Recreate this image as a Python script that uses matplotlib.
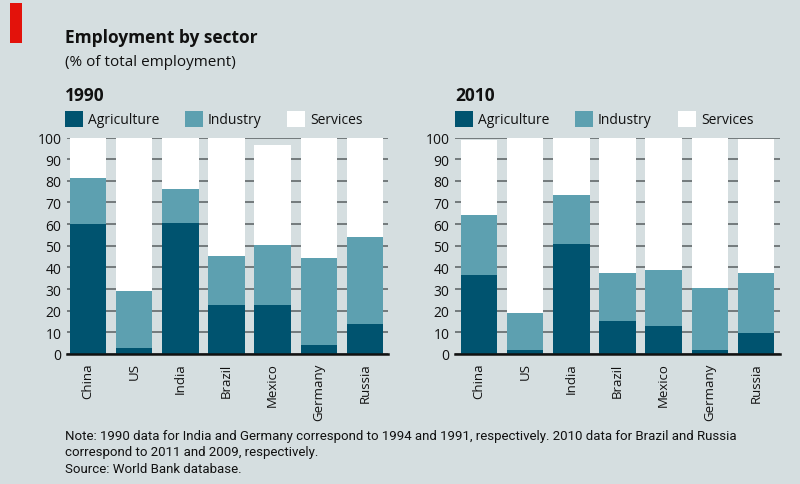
import matplotlib
matplotlib.use("Agg")
import matplotlib.pyplot as plt
from matplotlib.patches import Rectangle
import numpy as np

countries = ["China", "US", "India", "Brazil", "Mexico", "Germany", "Russia"]
sectors = ["Agriculture", "Industry", "Services"]
years = ["1990", "2010"]

agri_1990 = [60, 2.8, 60.5, 22.8, 22.6, 4, 14]
ind_1990 = [21.4, 26.4, 15.7, 22.6, 27.7, 40.3, 40]
serv_1990 = [18.6, 70.8, 23.8, 54.6, 46.2, 55.7, 46]

agri_2010 = [36.6, 1.7, 50.9, 15.1, 12.9, 1.7, 9.8]
ind_2010 = [27.7, 17.1, 22.5, 22.1, 25.7, 28.6, 27.6]
serv_2010 = [34.6, 81.2, 26.6, 62.8, 61.0, 69.7, 61.8]

yticks = [0, 10, 20, 30, 40, 50, 60, 70, 80, 90, 100]

BG = "#d5dee0"
C_AGRI = "#00536f"
C_IND = "#5da0b0"
C_SERV = "#ffffff"
colors = [C_AGRI, C_IND, C_SERV]

W, H = 800, 485
fig = plt.figure(figsize=(8, 4.85), dpi=100, facecolor=BG)

FONT = ["Open Sans", "DejaVu Sans"]
NARROW = ["Roboto", "DejaVu Sans"]

def fx(px):
    return px / W

def fy(py):
    return 1 - py / H

# red tag
fig.add_artist(Rectangle((fx(10), fy(44)), fx(12), 40 / H, transform=fig.transFigure,
                         color="#e3120b", lw=0))

fig.text(fx(65), fy(43), "Employment by sector", fontsize=12.5, fontweight="bold",
         family=FONT, va="baseline", color="#111111")
fig.text(fx(65), fy(66), "(% of total employment)", fontsize=11, family=FONT,
         va="baseline", color="#111111")

data = {
    "1990": (agri_1990, ind_1990, serv_1990),
    "2010": (agri_2010, ind_2010, serv_2010),
}

panels = [
    # year, axes left px, axes right px, xlim, title x, legend positions
    ("1990", 67, 388, (-0.455, 6.5), 65, [65, 185, 287]),
    ("2010", 455, 780, (-0.52, 6.52), 455, [455, 575, 678]),
]

y0_px, y100_px = 355, 138.5
for year, lpx, rpx, xlim, title_x, leg_x in panels:
    ax = fig.add_axes([fx(lpx), fy(y0_px), (rpx - lpx) / W, (y0_px - y100_px) / H])
    ax.set_facecolor(BG)
    x = np.arange(len(countries))
    a, i, s = data[year]
    bottom = np.zeros(len(countries))
    for vals, c in zip((a, i, s), colors):
        ax.bar(x, vals, bottom=bottom, width=0.79, color=c, edgecolor="none", zorder=3)
        bottom = bottom + np.array(vals)
    ax.set_xlim(*xlim)
    ax.set_ylim(0, 100)
    ax.set_yticks(yticks)
    ax.set_yticklabels([str(t) for t in yticks], fontsize=10, family=FONT, color="#111111")
    ax.set_xticks(x)
    ax.set_xticklabels(countries, rotation=90, fontsize=9.5, family=FONT, color="#111111",
                       va="top")
    ax.tick_params(axis="both", length=0, pad=4)
    ax.tick_params(axis="x", pad=6)
    ax.grid(axis="y", color="#62696b", lw=1.2, zorder=1)
    for sp in ["left", "right", "top"]:
        ax.spines[sp].set_visible(False)
    ax.spines["bottom"].set_color("#111111")
    ax.spines["bottom"].set_linewidth(1.8)
    ax.spines["bottom"].set_zorder(4)

    fig.text(fx(title_x), fy(101), year, fontsize=12.5, fontweight="bold", family=FONT,
             va="baseline", color="#111111")
    for lab, c, lx in zip(sectors, colors, leg_x):
        fig.add_artist(Rectangle((fx(lx), fy(128)), 18 / W, 16 / H,
                                 transform=fig.transFigure, color=c, lw=0))
        fig.text(fx(lx + 23), fy(120), lab, fontsize=10, family=FONT, va="center",
                 color="#111111")

note = ("Note: 1990 data for India and Germany correspond to 1994 and 1991, respectively. "
        "2010 data for Brazil and Russia\ncorrespond to 2011 and 2009, respectively.\n"
        "Source: World Bank database.")
fig.text(fx(65), fy(430), note, fontsize=9.5, family=NARROW, va="top",
         linespacing=1.35, color="#111111")

fig.savefig("out.png", dpi=100, facecolor=BG)
